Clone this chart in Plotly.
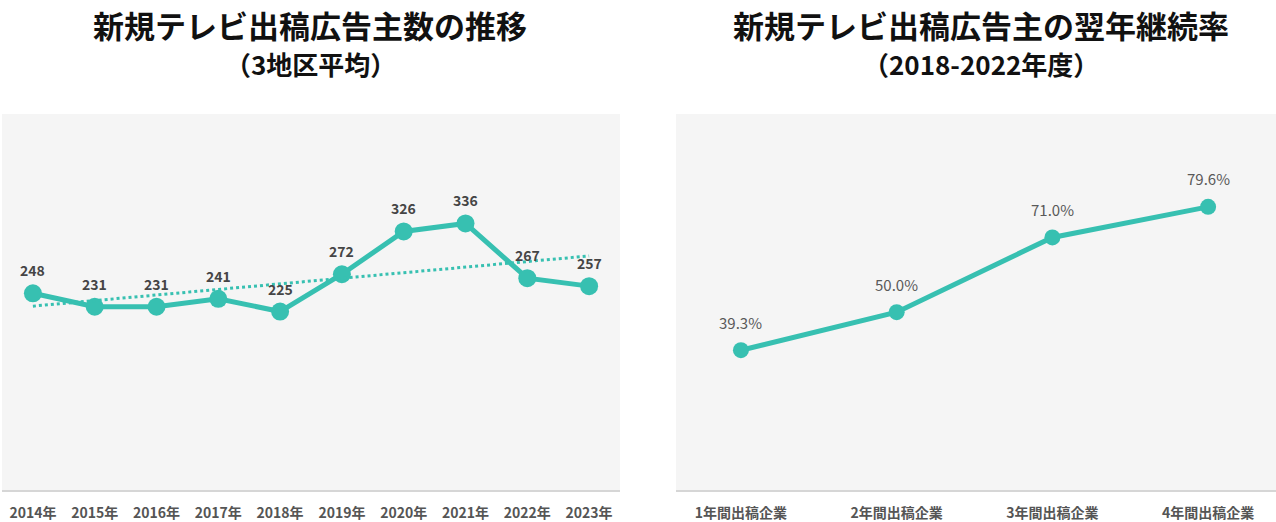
import numpy as np
from plotly import graph_objects as go
from plotly.subplots import make_subplots

# left chart: new TV advertisers per year (3-region average)
YEARS = ["2014年", "2015年", "2016年", "2017年", "2018年",
         "2019年", "2020年", "2021年", "2022年", "2023年"]
ADVERTISERS = [248, 231, 231, 241, 225, 272, 326, 336, 267, 257]

# right chart: next-year continuation rate
PERIODS = ["1年間出稿企業", "2年間出稿企業", "3年間出稿企業", "4年間出稿企業"]
RATES = [39.3, 50.0, 71.0, 79.6]

TEAL = "#37c0b1"
FONT = "Noto Sans CJK JP"

fig = make_subplots(rows=1, cols=2)

fig.add_trace(
    go.Scatter(
        x=YEARS,
        y=ADVERTISERS,
        mode="lines+markers",
        line=dict(color=TEAL, width=5),
        marker=dict(color=TEAL, size=18),
        hoverinfo="skip",
    ),
    row=1, col=1,
)

# linear trend of the left series
idx = np.arange(len(ADVERTISERS))
slope, intercept = np.polyfit(idx, ADVERTISERS, 1)
fig.add_trace(
    go.Scatter(
        x=YEARS,
        y=slope * idx + intercept,
        mode="lines",
        line=dict(color=TEAL, width=3, dash="dot"),
        hoverinfo="skip",
    ),
    row=1, col=1,
)

fig.add_trace(
    go.Scatter(
        x=PERIODS,
        y=RATES,
        mode="lines+markers",
        line=dict(color=TEAL, width=5),
        marker=dict(color=TEAL, size=16),
        hoverinfo="skip",
    ),
    row=1, col=2,
)

for year, value in zip(YEARS, ADVERTISERS):
    fig.add_annotation(
        x=year, y=value, xref="x", yref="y", text=f"<b>{value}</b>",
        showarrow=False, yshift=23,
        font=dict(family=FONT, size=14, color="#454545"),
    )

for period, rate in zip(PERIODS, RATES):
    fig.add_annotation(
        x=period, y=rate, xref="x2", yref="y2", text=f"{rate:.1f}%",
        showarrow=False, yshift=28,
        font=dict(family=FONT, size=15, color="#595959"),
    )

# titles
for cx, line1, line2 in [
    (0.243, "新規テレビ出稿広告主数の推移", "（3地区平均）"),
    (0.769, "新規テレビ出稿広告主の翌年継続率", "（2018-2022年度）"),
]:
    fig.add_annotation(
        x=cx, y=1.0, xref="paper", yref="paper", xanchor="center",
        yanchor="middle", yshift=114 - 24, text=f"<b>{line1}</b>",
        showarrow=False, font=dict(family=FONT, size=31, color="#111111"),
    )
    fig.add_annotation(
        x=cx, y=1.0, xref="paper", yref="paper", xanchor="center",
        yanchor="middle", yshift=114 - 63, text=f"<b>{line2}</b>",
        showarrow=False, font=dict(family=FONT, size=26, color="#111111"),
    )

axis_font = dict(family=FONT, size=14, color="#555555", weight="bold")
fig.update_xaxes(
    showgrid=False, zeroline=False, showline=True, linecolor="#d6d6d6",
    linewidth=1.5, ticks="", ticklabelstandoff=9, tickfont=axis_font,
)
fig.update_xaxes(range=[-0.5, 9.5], domain=[2 / 1276, 620 / 1276], row=1, col=1)
fig.update_xaxes(range=[-0.417, 3.436], domain=[676 / 1276, 1.0], row=1, col=2)
fig.update_yaxes(showgrid=False, zeroline=False, showticklabels=False)
fig.update_yaxes(range=[0, 474], row=1, col=1)
fig.update_yaxes(range=[0, 105.7], row=1, col=2)

fig.update_layout(
    width=1276,
    height=522,
    margin=dict(l=0, r=0, t=114, b=32),
    showlegend=False,
    plot_bgcolor="#f5f5f5",
    paper_bgcolor="#ffffff",
    font=dict(family=FONT),
)

# drop the page's default body margin so the figure fills the window
fig.write_html(
    "out.html",
    config={"displayModeBar": False},
    post_script="document.body.style.margin='0';document.body.style.overflow='hidden';",
)
